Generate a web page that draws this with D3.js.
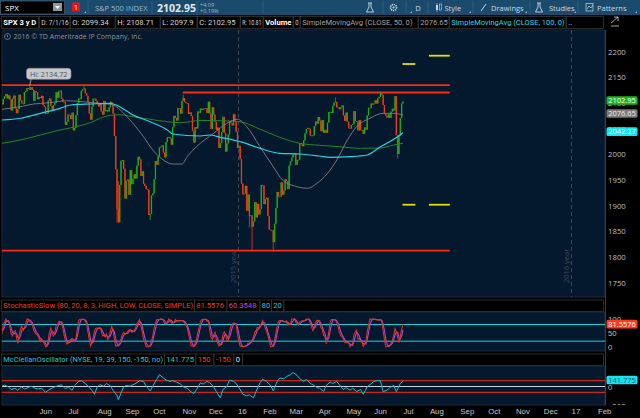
<!DOCTYPE html>
<html>
<head>
<meta charset="utf-8">
<script src="https://cdn.jsdelivr.net/npm/d3@7"></script>
<style>
html, body { margin: 0; padding: 0; background: #000; }
svg { display: block; font-family: "Open Sans", "DejaVu Sans", sans-serif; }
</style>
</head>
<body>
<div id="chart"></div>
<script>
// ---- data (SPX daily) ----
var startDate = "2015-04-21";
var endDate = "2017-02-28";
var holidays = ["2015-05-25","2015-07-03","2015-09-07","2015-11-26","2015-12-25","2016-01-01",
  "2016-01-18","2016-02-15","2016-03-25","2016-05-30","2016-07-04","2016-09-05","2016-11-24",
  "2016-12-26","2017-01-02","2017-01-16","2017-02-20"];

// closes of the 11 sessions before the first visible bar (feed the oscillator)
var leadCloses = [2080.62,2076.33,2081.90,2091.18,2102.06,2092.43,2095.84,2106.63,2104.99,2081.18,2100.40];

var closes = [
  2097.29,2107.96,2112.93,2117.69,
  2108.92,2114.76,2106.85,2085.51,2108.29,
  2114.49,2089.46,2080.15,2088.00,2116.10,
  2105.33,2099.12,2098.48,2121.10,2122.73,
  2129.20,2127.83,2125.85,2130.82,2126.06,
  2104.20,2123.48,2120.79,2107.39,
  2111.73,2109.60,2114.07,2095.84,2092.83,
  2079.28,2080.15,2105.20,2108.86,2094.11,
  2084.43,2096.29,2100.44,2121.24,2109.99,
  2122.85,2124.20,2108.58,2102.31,2101.49,
  2057.64,2063.11,2077.42,2076.78,
  2068.76,2081.34,2046.68,2051.31,2076.62,
  2099.60,2108.95,2107.40,2124.29,2126.64,
  2128.28,2119.21,2114.15,2102.15,2079.65,
  2067.64,2093.25,2108.57,2108.63,2103.84,
  2098.04,2093.32,2099.84,2083.56,2077.57,
  2104.18,2084.07,2086.05,2083.39,2091.54,
  2102.44,2096.92,2079.61,2035.73,1970.89,
  1893.21,1867.61,1940.51,1987.66,1988.87,
  1972.18,1913.85,1948.86,1951.13,1921.22,
  1969.41,1942.04,1952.29,1961.05,
  1953.03,1978.09,1995.31,1990.20,1958.03,
  1966.97,1942.74,1938.76,1932.24,1931.34,
  1881.77,1884.09,1920.03,1923.82,1951.36,
  1987.05,1979.92,1995.83,2013.43,2014.89,
  2017.46,2003.69,1994.24,2023.86,2033.11,
  2033.66,2030.77,2018.94,2052.51,2075.15,
  2071.18,2065.89,2090.35,2089.41,2079.36,
  2104.05,2109.79,2102.31,2099.93,2099.20,
  2078.58,2081.72,2075.00,2045.97,2023.04,
  2053.19,2050.44,2083.58,2081.24,2089.17,
  2086.59,2089.14,2088.87,2090.11,
  2080.41,2102.63,2079.51,2049.62,2091.69,
  2077.07,2063.59,2047.62,2052.23,2012.37,
  2021.94,2043.41,2073.07,2041.89,2005.55,
  2021.15,2038.97,2064.29,2060.99,
  2056.50,2078.36,2063.36,2043.94,
  2012.66,2016.71,1990.26,1943.09,1922.03,
  1923.67,1938.68,1890.28,1921.84,1880.33,
  1881.33,1859.33,1868.99,1906.90,
  1877.08,1903.63,1882.95,1893.36,1940.24,
  1939.38,1903.03,1912.53,1915.45,1880.05,
  1853.44,1852.21,1851.86,1829.08,1864.78,
  1895.58,1926.82,1917.83,1917.78,
  1945.50,1921.27,1929.80,1951.70,1948.05,
  1932.23,1978.35,1986.45,1993.40,1999.99,
  2001.76,1979.26,1989.26,1989.57,2022.19,
  2019.64,2015.93,2027.22,2040.59,2049.58,
  2051.60,2049.80,2036.71,2035.94,
  2037.05,2055.01,2063.95,2059.74,2072.78,
  2066.13,2045.17,2066.66,2041.91,2047.60,
  2041.99,2061.72,2082.42,2082.78,2080.73,
  2094.34,2100.80,2102.40,2091.48,2091.58,
  2087.79,2091.70,2095.15,2075.81,2065.30,
  2081.43,2063.37,2051.12,2050.63,2057.14,
  2058.69,2084.39,2064.46,2064.11,2046.61,
  2066.66,2047.21,2047.63,2040.04,2052.32,
  2048.04,2076.06,2090.54,2090.10,2099.06,
  2096.95,2099.33,2105.26,2099.13,
  2109.41,2112.13,2119.12,2115.48,2096.07,
  2079.06,2075.32,2071.50,2077.99,2071.22,
  2083.25,2088.90,2085.45,2113.32,2037.41,
  2000.54,2036.09,2070.77,2098.94,2102.95
];

// intraday extremes that stick out beyond open/close
var highWicks = [["2015-05-20",2134.72],["2015-07-20",2132.82],["2015-08-24",1965.15],["2015-08-25",1948.04],
  ["2015-11-03",2116.48],["2016-06-08",2120.55],["2016-04-20",2111.05]];
var lowWicks = [["2015-08-24",1867.01],["2015-08-25",1867.08],["2015-09-29",1871.91],["2015-08-21",1970.76],
  ["2016-01-20",1812.29],["2016-02-11",1810.10],["2016-06-27",1991.68],["2016-01-15",1857.83]];

// moving averages: [bar, value]
var sma50 = [[0,2087.8],[14,2092.9],[24,2098.1],[36,2100.6],[49,2104.5],[61,2102.6],[74,2099.5],[84,2096.2],
  [92,2080],[99,2060.5],[107,2034.4],[114,2008.5],[122,1989],[129,1981.2],[136,1981.2],[140,1995.5],
  [147,2014.9],[160,2041],[170,2060.5],[178,2068.3],[185,2053.9],[195,2014.9],[205,1976],[212,1950.1],
  [223,1937],[231,1933.9],[238,1943.6],[246,1963.1],[253,1989],[261,2028],[268,2053.9],[278,2070.3],
  [288,2080],[296,2080],[303,2076.65]];
var sma100 = [[0,2066.9],[14,2070.3],[29,2080],[44,2089.7],[52,2096.2],[67,2098.1],[82,2099.5],[89,2092.9],
  [99,2076.7],[112,2063.6],[125,2047.5],[129,2039.7],[150,2035.8],[157,2037.7],[165,2033.2],[180,2024.7],
  [195,2011.8],[210,2002.1],[225,2000.7],[240,1996.8],[248,1994.3],[263,1995.5],[276,1998.8],[286,2014.9],
  [296,2029.4],[303,2042.27]];
var sma200 = [[0,2021.6],[14,2028],[29,2037.7],[44,2047.5],[59,2055.8],[67,2062],[74,2070],[82,2076],
  [89,2077],[99,2073.4],[112,2068.3],[125,2063.6],[135,2061.7],[150,2066],[165,2065.6],[180,2063.6],
  [195,2049],[210,2033.2],[225,2021.6],[240,2017.7],[255,2014.9],[271,2011.8],[286,2012.4],[296,2018.2],
  [303,2021.6]];

// McClellan oscillator (NYSE): [bar, value]
var mcclellan = [[0,9],[2,35],[5,-9],[7,-79],[10,-44],[12,-97],[15,-9],[17,-62],[20,-26],[22,9],[25,-44],
  [27,-62],[30,-44],[33,-150],[35,-97],[38,-35],[40,-9],[43,26],[45,44],[48,-62],[50,-9],[53,-97],[55,26],
  [58,132],[60,150],[63,79],[65,9],[68,-97],[70,-202],[72,-9],[74,44],[77,9],[79,79],[82,9],[84,-97],
  [87,-238],[88,-343],[90,-167],[92,-9],[94,26],[97,9],[99,44],[102,97],[104,150],[107,132],[109,9],
  [112,-114],[114,9],[117,185],[119,308],[122,220],[124,167],[127,132],[129,150],[132,114],[135,62],
  [137,-9],[140,-44],[142,-114],[145,-185],[147,-79],[150,97],[152,62],[155,132],[157,97],[160,-9],
  [162,-132],[165,-290],[167,-79],[170,9],[172,167],[175,132],[177,79],[180,-79],[182,-202],[185,-238],
  [187,-220],[190,-290],[192,-132],[195,97],[197,185],[200,132],[203,26],[205,-114],[208,132],[210,220],
  [213,202],[215,255],[218,308],[220,361],[223,290],[225,202],[228,132],[230,185],[233,79],[235,44],
  [238,-26],[240,-44],[243,-132],[245,26],[248,114],[250,79],[253,132],[255,44],[258,-79],[260,-26],
  [263,-97],[265,-44],[268,-132],[271,-79],[273,-202],[276,-9],[278,44],[281,132],[283,150],[286,150],
  [288,-132],[291,-97],[293,-26],[296,26],[298,-132],[301,79],[303,141.775]];

// drawn levels: [price, from, to]
var redLevels = [[2134.72,"2015-04-21","2016-08-22"],[2120.55,"2015-11-03","2016-08-22"],[1812.29,"2015-04-21","2016-08-22"]];
var yellowLevels = [[2192.2,"2016-08-01","2016-08-22"],[2176.0,"2016-07-01","2016-07-15"],
  [1901.9,"2016-07-01","2016-07-15"],[1901.9,"2016-08-01","2016-08-22"]];

var priceTicks = [1750,1800,1850,1900,1950,2000,2050,2100,2150,2200];
var xTickMonths = ["2015-06","2015-07","2015-08","2015-09","2015-10","2015-11","2015-12","2016-01","2016-02",
  "2016-03","2016-04","2016-05","2016-06","2016-07","2016-08","2016-09","2016-10","2016-11","2016-12","2017-01","2017-02"];
var xTickLabels = ["Jun","Jul","Aug","Sep","Oct","Nov","Dec","16","Feb","Mar","Apr","May","Jun","Jul","Aug",
  "Sep","Oct","Nov","Dec","17","Feb"];
var yearBreaks = [["2016-01","2015 year"],["2017-01","2016 year"]];

// ---- calendar ----
var parse = d3.timeParse("%Y-%m-%d"), fmt = d3.timeFormat("%Y-%m-%d");
var hol = new Set(holidays);
var days = d3.timeDay.range(parse(startDate), d3.timeDay.offset(parse(endDate), 1))
  .filter(function(d) { var w = d.getDay(); return w !== 0 && w !== 6 && !hol.has(fmt(d)); });
var dayIndex = {};
days.forEach(function(d, i) { dayIndex[fmt(d)] = i; });
function firstOfMonth(m) {
  for (var i = 0; i < days.length; i++) if (fmt(days[i]).slice(0, 7) === m) return i;
  return -1;
}

// ---- bars ----
var allCloses = leadCloses.concat(closes);
var bars = closes.map(function(c, i) {
  var o = allCloses[i + leadCloses.length - 1];
  return { i: i, o: o, c: c, h: Math.max(o, c), l: Math.min(o, c) };
});
highWicks.forEach(function(w) { var b = bars[dayIndex[w[0]]]; b.h = Math.max(b.h, w[1]); });
lowWicks.forEach(function(w) { var b = bars[dayIndex[w[0]]]; b.l = Math.min(b.l, w[1]); });

// StochasticSlow(80, 20, 8, 3)
var series = leadCloses.map(function(c) { return { h: c, l: c, c: c }; }).concat(bars);
var rawK = series.map(function(b, j) {
  if (j < 7) return null;
  var win = series.slice(j - 7, j + 1);
  var hh = d3.max(win, function(d) { return d.h; }), ll = d3.min(win, function(d) { return d.l; });
  return 100 * (b.c - ll) / (hh - ll);
});
function avg3(arr) {
  return arr.map(function(v, j) {
    if (j < 2 || arr[j] == null || arr[j - 1] == null || arr[j - 2] == null) return null;
    return (arr[j] + arr[j - 1] + arr[j - 2]) / 3;
  });
}
var fullK = avg3(rawK), fullD = avg3(fullK);
var stochK = [], stochD = [];
bars.forEach(function(b, i) {
  var j = i + leadCloses.length;
  if (fullK[j] != null) stochK.push([i, fullK[j]]);
  if (fullD[j] != null) stochD.push([i, fullD[j]]);
});

// ---- layout ----
var W = 640, H = 418;
var plotL = 2, plotR = 605;
var svg = d3.select("#chart").append("svg").attr("width", W).attr("height", H);
svg.append("rect").attr("width", W).attr("height", H).attr("fill", "#000");

var x = d3.scaleLinear().domain([0, 430]).range([1.9, 571.05]);
var yP = d3.scaleLinear().domain([1750, 2200]).range([282.7, 51.7]);
var yS = d3.scaleLinear().domain([0, 100]).range([346.7, 319]);
var yM = d3.scaleLinear().domain([-150, 150]).range([392.3, 380.7]);

var NAVY = "#04182e", BORDER = "#2c3540";
var NARROW = "Roboto, 'Open Sans', sans-serif";

// ---- toolbar ----
svg.append("rect").attr("x", 0).attr("y", 0).attr("width", W).attr("height", 15).attr("fill", "#1b4b6c");
svg.append("rect").attr("x", 0.5).attr("y", 1).attr("width", 64).attr("height", 13).attr("fill", "#000")
  .attr("stroke", "#5a6b78").attr("stroke-width", 0.6);
svg.append("text").attr("x", 5).attr("y", 10.5).attr("fill", "#fff").attr("font-size", 8).text("SPX");
svg.append("rect").attr("x", 53).attr("y", 3).attr("width", 9).attr("height", 8).attr("fill", "#8d969c");
svg.append("path").attr("d", "M55,6 L60,6 L57.5,9 Z").attr("fill", "#fff");
svg.append("rect").attr("x", 72).attr("y", 2.5).attr("width", 8).attr("height", 9).attr("fill", "#e8141a");
svg.append("text").attr("x", 76).attr("y", 10).attr("text-anchor", "middle").attr("fill", "#fff").attr("font-size", 7).text("1");
svg.append("path").attr("d", "M84,13 L86,13 L86,11 Z").attr("fill", "#9fb3c3");
[88, 152, 197, 263, 383, 406, 428, 473, 530, 578].forEach(function(sx) {
  svg.append("line").attr("x1", sx).attr("x2", sx).attr("y1", 1).attr("y2", 14).attr("stroke", "#2f6384").attr("stroke-width", 0.8);
});
svg.append("text").attr("x", 95).attr("y", 10.5).attr("fill", "#9db4c6").attr("font-size", 7.5).text("S&P 500 INDEX");
svg.append("text").attr("x", 157).attr("y", 11.5).attr("fill", "#e4e8ec").attr("font-size", 10.5).attr("font-weight", "bold").text("2102.95");
svg.append("text").attr("x", 200).attr("y", 6.5).attr("fill", "#9fb7c7").attr("font-size", 5.5).text("+4.09");
svg.append("text").attr("x", 200).attr("y", 12.5).attr("fill", "#9fb7c7").attr("font-size", 5.5).text("+0.19%");
var tbText = "#c9d7e2";
// flask
svg.append("path").attr("d", "M368,3 L372,3 M369,3 L369,7 L366.5,12 L373.5,12 L371,7 L371,3").attr("fill", "none").attr("stroke", tbText).attr("stroke-width", 0.9);
// gear
svg.append("circle").attr("cx", 393.5).attr("cy", 7.5).attr("r", 3).attr("fill", "none").attr("stroke", tbText).attr("stroke-width", 1.6).attr("stroke-dasharray", "1.2,0.8");
svg.append("circle").attr("cx", 393.5).attr("cy", 7.5).attr("r", 1).attr("fill", tbText);
svg.append("text").attr("x", 418).attr("y", 10.5).attr("text-anchor", "middle").attr("fill", tbText).attr("font-size", 7.5).text("D");
// candle icon
svg.append("rect").attr("x", 436).attr("y", 5).attr("width", 2).attr("height", 5).attr("fill", tbText);
svg.append("rect").attr("x", 439.5).attr("y", 4).attr("width", 2).attr("height", 6).attr("fill", "none").attr("stroke", tbText).attr("stroke-width", 0.6);
svg.append("line").attr("x1", 437).attr("x2", 437).attr("y1", 3).attr("y2", 12).attr("stroke", tbText).attr("stroke-width", 0.5);
svg.append("text").attr("x", 444.5).attr("y", 10.5).attr("fill", tbText).attr("font-size", 7.5).text("Style");
svg.append("line").attr("x1", 481).attr("x2", 486).attr("y1", 11).attr("y2", 4).attr("stroke", tbText).attr("stroke-width", 1);
svg.append("text").attr("x", 491).attr("y", 10.5).attr("fill", tbText).attr("font-size", 7.5).text("Drawings");
svg.append("path").attr("d", "M537,3 L541,3 M538,3 L538,7 L535.5,12 L542.5,12 L540,7 L540,3").attr("fill", "none").attr("stroke", tbText).attr("stroke-width", 0.9);
svg.append("text").attr("x", 549).attr("y", 10.5).attr("fill", tbText).attr("font-size", 7.5).text("Studies");
svg.append("rect").attr("x", 586).attr("y", 3.5).attr("width", 7).attr("height", 7.5).attr("fill", "none").attr("stroke", tbText).attr("stroke-width", 0.7);
svg.append("path").attr("d", "M587,9 L589,6 L591,8 L593,5").attr("fill", "none").attr("stroke", tbText).attr("stroke-width", 0.7);
svg.append("text").attr("x", 597).attr("y", 10.5).attr("fill", tbText).attr("font-size", 7.5).text("Patterns");
[[412, 13], [471, 13], [527, 13], [576, 13], [637, 13]].forEach(function(p) {
  svg.append("path").attr("d", "M" + (p[0] - 2) + "," + p[1] + " L" + p[0] + "," + p[1] + " L" + p[0] + "," + (p[1] - 2) + " Z").attr("fill", "#9fb3c3");
});

// ---- info row ----
var infoCells = [
  [1.5, 38.5, "SPX 3 y D", "#ffffff", true],
  [39.5, 70, "D: 7/1/16", "#d4d4d4", false],
  [70.5, 115, "O: 2099.34", "#d4d4d4", false],
  [115.5, 160, "H: 2108.71", "#d4d4d4", false],
  [160.5, 197, "L: 2097.9", "#d4d4d4", false],
  [197.5, 240, "C: 2102.95", "#d4d4d4", false],
  [240.5, 263, "R: 10.81", "#d4d4d4", false],
  [263.5, 293, "Volume", "#ffffff", true],
  [293.5, 300, "0", "#d4d4d4", false],
  [300.5, 418, "SimpleMovingAvg (CLOSE, 50, 0)", "#a2a2a2", false],
  [418.5, 449, "2076.65", "#a2a2a2", false],
  [449.5, 566, "SimpleMovingAvg (CLOSE, 100, 0)", "#22dbe8", false],
  [566.5, 603.5, "..", "#d4d4d4", false]
];
function cellRow(cells, y0, h, fs) {
  cells.forEach(function(c) {
    svg.append("rect").attr("x", c[0]).attr("y", y0).attr("width", c[1] - c[0]).attr("height", h)
      .attr("fill", "#000").attr("stroke", "#3d3d3d").attr("stroke-width", 0.7);
    var t = svg.append("text").attr("x", c[0] + 1.8).attr("y", y0 + h / 2).attr("dy", "0.35em")
      .attr("fill", c[3]).attr("font-size", fs).attr("font-family", NARROW)
      .attr("font-weight", c[4] ? "bold" : "normal").text(c[2]);
    var avail = c[1] - c[0] - 3.2;
    if (c[2] && t.node().getComputedTextLength() > avail) {
      t.attr("textLength", avail).attr("lengthAdjust", "spacingAndGlyphs");
    }
  });
}
cellRow(infoCells, 16.5, 12, 7.6);
svg.append("path").attr("d", "M611,23 L618,17 M614,17 L618,17 L618,21 M611,26 L619,26").attr("fill", "none").attr("stroke", "#cfcfcf").attr("stroke-width", 0.8);

// ---- panels ----
svg.append("rect").attr("x", plotL).attr("y", 30).attr("width", plotR - plotL).attr("height", 267).attr("fill", NAVY).attr("stroke", BORDER).attr("stroke-width", 0.7);
svg.append("rect").attr("x", plotL).attr("y", 312).attr("width", plotR - plotL).attr("height", 39).attr("fill", NAVY).attr("stroke", BORDER).attr("stroke-width", 0.7);
svg.append("rect").attr("x", plotL).attr("y", 366).attr("width", plotR - plotL).attr("height", 39).attr("fill", NAVY).attr("stroke", BORDER).attr("stroke-width", 0.7);
svg.append("line").attr("x1", plotR + 0.5).attr("x2", plotR + 0.5).attr("y1", 30).attr("y2", 405).attr("stroke", "#4a4a4a").attr("stroke-width", 0.8);

var defs = svg.append("defs");
defs.append("clipPath").attr("id", "clipMain").append("rect").attr("x", plotL).attr("y", 30).attr("width", plotR - plotL).attr("height", 267);
defs.append("clipPath").attr("id", "clipStoch").append("rect").attr("x", plotL).attr("y", 312).attr("width", plotR - plotL).attr("height", 39);
defs.append("clipPath").attr("id", "clipMO").append("rect").attr("x", plotL).attr("y", 366).attr("width", plotR - plotL).attr("height", 39);
defs.append("clipPath").attr("id", "clipMOAxis").append("rect").attr("x", plotR + 1).attr("y", 366).attr("width", 40).attr("height", 39);

// copyright
svg.append("circle").attr("cx", 7.5).attr("cy", 36.5).attr("r", 3).attr("fill", "none").attr("stroke", "#8b949c").attr("stroke-width", 0.7);
svg.append("line").attr("x1", 7.5).attr("x2", 7.5).attr("y1", 34.8).attr("y2", 37.3).attr("stroke", "#8b949c").attr("stroke-width", 0.8);
svg.append("text").attr("x", 13.5).attr("y", 39).attr("fill", "#8b949c").attr("font-size", 7).text("2016 \u00A9 TD Ameritrade IP Company, Inc.");

var main = svg.append("g").attr("clip-path", "url(#clipMain)");

// year separators
yearBreaks.forEach(function(yb) {
  var xx = Math.round(x(firstOfMonth(yb[0]))) + 0.5;
  main.append("line").attr("x1", xx).attr("x2", xx).attr("y1", 30).attr("y2", 297)
    .attr("stroke", "#4c5560").attr("stroke-width", 0.8).attr("stroke-dasharray", "4,3");
  main.append("text").attr("transform", "translate(" + (xx - 2.5) + ",283) rotate(-90)")
    .attr("fill", "#3e4b58").attr("font-size", 7.5).text(yb[1]);
});

// levels
redLevels.forEach(function(l) {
  main.append("line").attr("x1", x(dayIndex[l[1]]) - 0.5).attr("x2", x(dayIndex[l[2]]) + 0.5)
    .attr("y1", yP(l[0])).attr("y2", yP(l[0])).attr("stroke", "#ff2a0c").attr("stroke-width", 1.8);
});
yellowLevels.forEach(function(l) {
  main.append("line").attr("x1", x(dayIndex[l[1]]) - 0.5).attr("x2", x(dayIndex[l[2]]) + 0.5)
    .attr("y1", yP(l[0])).attr("y2", yP(l[0])).attr("stroke", "#e2e000").attr("stroke-width", 1.8);
});

// candles
var UP = "#18b018", DOWN = "#f53b0e";
var cg = main.append("g");
cg.selectAll("line.wick").data(bars).enter().append("line").attr("class", "wick")
  .attr("x1", function(d) { return x(d.i); }).attr("x2", function(d) { return x(d.i); })
  .attr("y1", function(d) { return yP(d.h); }).attr("y2", function(d) { return yP(d.l); })
  .attr("stroke", function(d) { return d.c >= d.o ? UP : DOWN; }).attr("stroke-width", 0.8);
cg.selectAll("rect.body").data(bars).enter().append("rect").attr("class", "body")
  .attr("x", function(d) { return x(d.i) - 0.65; }).attr("width", 1.3)
  .attr("y", function(d) { return yP(Math.max(d.o, d.c)); })
  .attr("height", function(d) { return Math.max(0.8, yP(Math.min(d.o, d.c)) - yP(Math.max(d.o, d.c))); })
  .attr("fill", function(d) { return d.c >= d.o ? UP : DOWN; });

// moving averages
var maLine = d3.line().x(function(d) { return x(d[0]); }).y(function(d) { return yP(d[1]); }).curve(d3.curveMonotoneX);
main.append("path").datum(sma200).attr("d", maLine).attr("fill", "none").attr("stroke", "#23862a").attr("stroke-width", 1);
main.append("path").datum(sma50).attr("d", maLine).attr("fill", "none").attr("stroke", "#808080").attr("stroke-width", 0.9);
main.append("path").datum(sma100).attr("d", maLine).attr("fill", "none").attr("stroke", "#27d3e0").attr("stroke-width", 1.2);

// Hi bubble
var hiBar = bars[dayIndex["2015-05-20"]];
svg.append("line").attr("x1", x(hiBar.i) + 1.5).attr("x2", x(hiBar.i)).attr("y1", 79).attr("y2", yP(hiBar.h))
  .attr("stroke", "#b8b8b8").attr("stroke-width", 0.8);
svg.append("rect").attr("x", 26.5).attr("y", 68.3).attr("width", 44.5).attr("height", 11).attr("rx", 3)
  .attr("fill", "#c6c8ca").attr("stroke", "#8e9295").attr("stroke-width", 0.6);
svg.append("text").attr("x", 48.7).attr("y", 74).attr("dy", "0.35em").attr("text-anchor", "middle")
  .attr("fill", "#505458").attr("font-size", 7.2).text("Hi: " + d3.format(".2f")(hiBar.h));

// price axis
var pAxis = svg.append("g").attr("transform", "translate(" + (plotR + 2) + ",0)")
  .call(d3.axisRight(yP).tickValues(priceTicks).tickSize(0).tickPadding(1).tickFormat(d3.format("d")));
pAxis.select(".domain").remove();
pAxis.selectAll("text").attr("fill", "#bdbdbd").attr("font-size", 7.8).attr("font-family", "Open Sans, DejaVu Sans, sans-serif");

function tag(y, text, bg, fg) {
  svg.append("rect").attr("x", 606.5).attr("y", y - 4.3).attr("width", 31).attr("height", 8.6).attr("rx", 1.5).attr("fill", bg);
  svg.append("text").attr("x", 622).attr("y", y).attr("dy", "0.35em").attr("text-anchor", "middle")
    .attr("fill", fg).attr("font-size", 7.5).text(text);
}
var lastBar = bars[bars.length - 1];
tag(yP(lastBar.c) - 1, d3.format(".2f")(lastBar.c), "#1eb41e", "#ffffff");
tag(yP(sma50[sma50.length - 1][1]) - 1.5, d3.format(".2f")(sma50[sma50.length - 1][1]), "#7b7b7b", "#ececec");
tag(yP(sma100[sma100.length - 1][1]) - 1, d3.format(".2f")(sma100[sma100.length - 1][1]), "#16e4f0", "#e8fbff");

// ---- stochastic ----
var stochCells = [
  [1.5, 194.5, "StochasticSlow (80, 20, 8, 3, HIGH, LOW, CLOSE, SIMPLE)", "#ee3e1e", false],
  [194.5, 227, d3.format(".4f")(stochK[stochK.length - 1][1]), "#ee3e1e", false],
  [227, 260, d3.format(".4f")(stochD[stochD.length - 1][1]), "#c445d6", false],
  [260, 271.5, "80", "#22c8dc", false],
  [271.5, 284, "20", "#22c8dc", false],
  [284, 603.5, "", "#000", false]
];
cellRow(stochCells, 300, 11.5, 7.6);
var sg = svg.append("g").attr("clip-path", "url(#clipStoch)");
[80, 20].forEach(function(v) {
  sg.append("line").attr("x1", plotL).attr("x2", plotR).attr("y1", yS(v)).attr("y2", yS(v)).attr("stroke", "#12d6e2").attr("stroke-width", 1);
});
var sLine = d3.line().x(function(d) { return x(d[0]); }).y(function(d) { return yS(d[1]); });
sg.append("path").datum(stochD).attr("d", sLine).attr("fill", "none").attr("stroke", "#b548d8").attr("stroke-width", 1.1);
sg.append("path").datum(stochK).attr("d", sLine).attr("fill", "none").attr("stroke", "#e0321c").attr("stroke-width", 1.1);
var sAxis = svg.append("g").attr("transform", "translate(" + (plotR + 2) + ",0)")
  .call(d3.axisRight(yS).tickValues([0, 50, 100]).tickSize(0).tickPadding(1));
sAxis.select(".domain").remove();
sAxis.selectAll("text").attr("fill", "#bdbdbd").attr("font-size", 7.8);
tag(yS(stochK[stochK.length - 1][1]), d3.format(".4f")(stochK[stochK.length - 1][1]), "#ff3a1c", "#ffffff");

// ---- McClellan ----
var moCells = [
  [1.5, 164.5, "McClellanOscillator (NYSE, 19, 39, 150, -150, no)", "#22c8dc", false],
  [164.5, 196, d3.format(".3f")(mcclellan[mcclellan.length - 1][1]), "#1ecfae", false],
  [196, 214, "150", "#ee3e1e", false],
  [214, 234, "-150", "#ee3e1e", false],
  [234, 242.5, "0", "#e0e0e0", false],
  [242.5, 603.5, "", "#000", false]
];
cellRow(moCells, 354, 11.5, 7.6);
var mg = svg.append("g").attr("clip-path", "url(#clipMO)");
[150, -150].forEach(function(v) {
  mg.append("line").attr("x1", plotL).attr("x2", plotR).attr("y1", yM(v)).attr("y2", yM(v)).attr("stroke", "#ff2a0c").attr("stroke-width", 1);
});
mg.append("line").attr("x1", plotL).attr("x2", plotR).attr("y1", yM(0)).attr("y2", yM(0)).attr("stroke", "#cfcfcf").attr("stroke-width", 1);
mg.append("path").datum(mcclellan).attr("d", d3.line().x(function(d) { return x(d[0]); }).y(function(d) { return yM(d[1]); }))
  .attr("fill", "none").attr("stroke", "#1fbfcc").attr("stroke-width", 1);
var mAxis = svg.append("g").attr("clip-path", "url(#clipMOAxis)").append("g").attr("transform", "translate(" + (plotR + 2) + ",0)")
  .call(d3.axisRight(yM).tickValues([0, -500]).tickSize(0).tickPadding(1));
mAxis.select(".domain").remove();
mAxis.selectAll("text").attr("fill", "#bdbdbd").attr("font-size", 7.8);
tag(yM(mcclellan[mcclellan.length - 1][1]) - 1, d3.format(".3f")(mcclellan[mcclellan.length - 1][1]), "#16e4f0", "#0e5a72");

// ---- time axis ----
var tickIdx = xTickMonths.map(firstOfMonth);
var xAxis = svg.append("g").attr("transform", "translate(0,405)")
  .call(d3.axisBottom(x).tickValues(tickIdx).tickSize(0).tickPadding(3)
    .tickFormat(function(d) { return xTickLabels[tickIdx.indexOf(d)]; }));
xAxis.select(".domain").remove();
xAxis.selectAll("text").attr("text-anchor", "start").attr("fill", "#c8c8c8").attr("font-size", 7.8);
</script>
</body>
</html>
